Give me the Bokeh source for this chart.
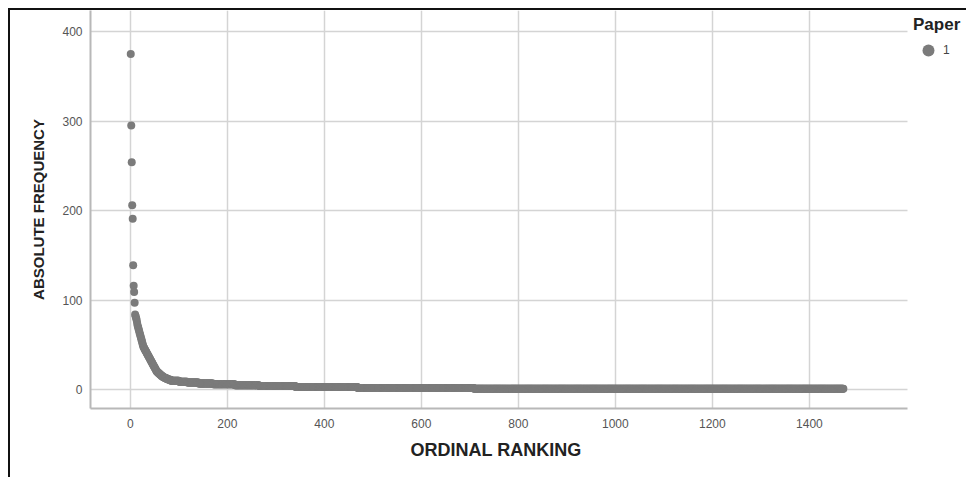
import numpy as np
from bokeh.plotting import figure
from bokeh.models import Range1d, FixedTicker, Legend, LegendItem, Title
from bokeh.embed import file_html
from bokeh.resources import INLINE

# Highest frequencies, read point by point (ranks 1..83)
top_freqs = [375, 295, 254, 206, 191, 139, 116, 109, 97, 84, 82, 80, 78, 75, 72, 70,
             68, 66, 64, 62, 60, 58, 56, 54, 52, 50, 48, 47, 46, 45, 44, 43, 42, 41,
             40, 39, 38, 37, 36, 35, 34, 33, 32, 31, 30, 29, 28, 27, 26, 25, 24, 23,
             22, 21, 20, 20, 19, 19, 18, 18, 17, 17, 16, 16, 15, 15, 15, 14, 14, 14,
             13, 13, 13, 13, 12, 12, 12, 12, 11, 11, 11, 11, 11]
# Tail: frequency value and how many words share it
tail_values = [10, 9, 8, 7, 6, 5, 4, 3, 2, 1]
tail_counts = [17, 17, 23, 30, 45, 50, 75, 128, 240, 762]

freqs = np.array(top_freqs + list(np.repeat(tail_values, tail_counts)), dtype=float)
ranks = np.arange(1, len(freqs) + 1)

x_ticks = [0, 200, 400, 600, 800, 1000, 1200, 1400]
y_ticks = [0, 100, 200, 300, 400]
x_axis_span = (-82, 1602)

p = figure(width=958, height=469, output_backend="svg", toolbar_location=None,
           x_range=Range1d(-82, 1728), y_range=Range1d(-21, 423.5),
           min_border_left=80, min_border_right=0, min_border_top=0, min_border_bottom=71,
           margin=(8, 0, 0, 8))
p.styles = {"border-top": "2px solid #111", "border-left": "2px solid #111"}
p.background_fill_color = "white"
p.border_fill_color = "white"
p.outline_line_color = None

r = p.scatter(ranks, freqs, size=8, fill_color="#7b7b7b", line_color=None)

for ax in (p.xaxis[0], p.yaxis[0]):
    ax.axis_line_color = "#b8b8b8"
    ax.axis_line_width = 2
    ax.major_tick_line_color = None
    ax.minor_tick_line_color = None
    ax.major_tick_out = 0
    ax.major_tick_in = 0
    ax.minor_tick_out = 0
    ax.major_label_text_font = "Liberation Sans"
    ax.major_label_text_font_size = "12px"
    ax.major_label_text_color = "#555555"
    ax.axis_label_text_font = "Liberation Sans"
    ax.axis_label_text_font_style = "bold"
    ax.axis_label_text_color = "#222222"

p.xaxis.bounds = x_axis_span
p.xaxis.ticker = FixedTicker(ticks=x_ticks)
p.yaxis.ticker = FixedTicker(ticks=y_ticks)
p.yaxis.axis_label = "ABSOLUTE FREQUENCY"
p.yaxis.axis_label_text_font_size = "15px"
p.xaxis.major_label_standoff = 10
p.yaxis.major_label_standoff = 8
p.yaxis.axis_label_standoff = 12

x_title = Title(text="ORDINAL RANKING", align="left", offset=320,
                text_font="Liberation Sans", text_font_style="bold",
                text_font_size="18px", text_color="#222222", standoff=14)
p.add_layout(x_title, "below")

p.xgrid.grid_line_color = "#d4d4d4"
p.ygrid.grid_line_color = "#d4d4d4"
p.xgrid.grid_line_width = 1.5
p.ygrid.grid_line_width = 1.5
p.ygrid.cross_bounds = x_axis_span

legend = Legend(items=[LegendItem(label="1", renderers=[r])], title="Paper",
                title_text_font="Liberation Sans", title_text_font_style="bold",
                title_text_font_size="17px", title_text_color="#222222",
                label_text_font="Liberation Sans", label_text_font_size="12px",
                label_text_color="#444444", border_line_color=None,
                background_fill_alpha=0, margin=0, padding=0, spacing=0,
                glyph_width=30, glyph_height=30, label_standoff=-3, title_standoff=0,
                location=(823, 343))
p.add_layout(legend)

open("out.html", "w").write(file_html(p, INLINE))
